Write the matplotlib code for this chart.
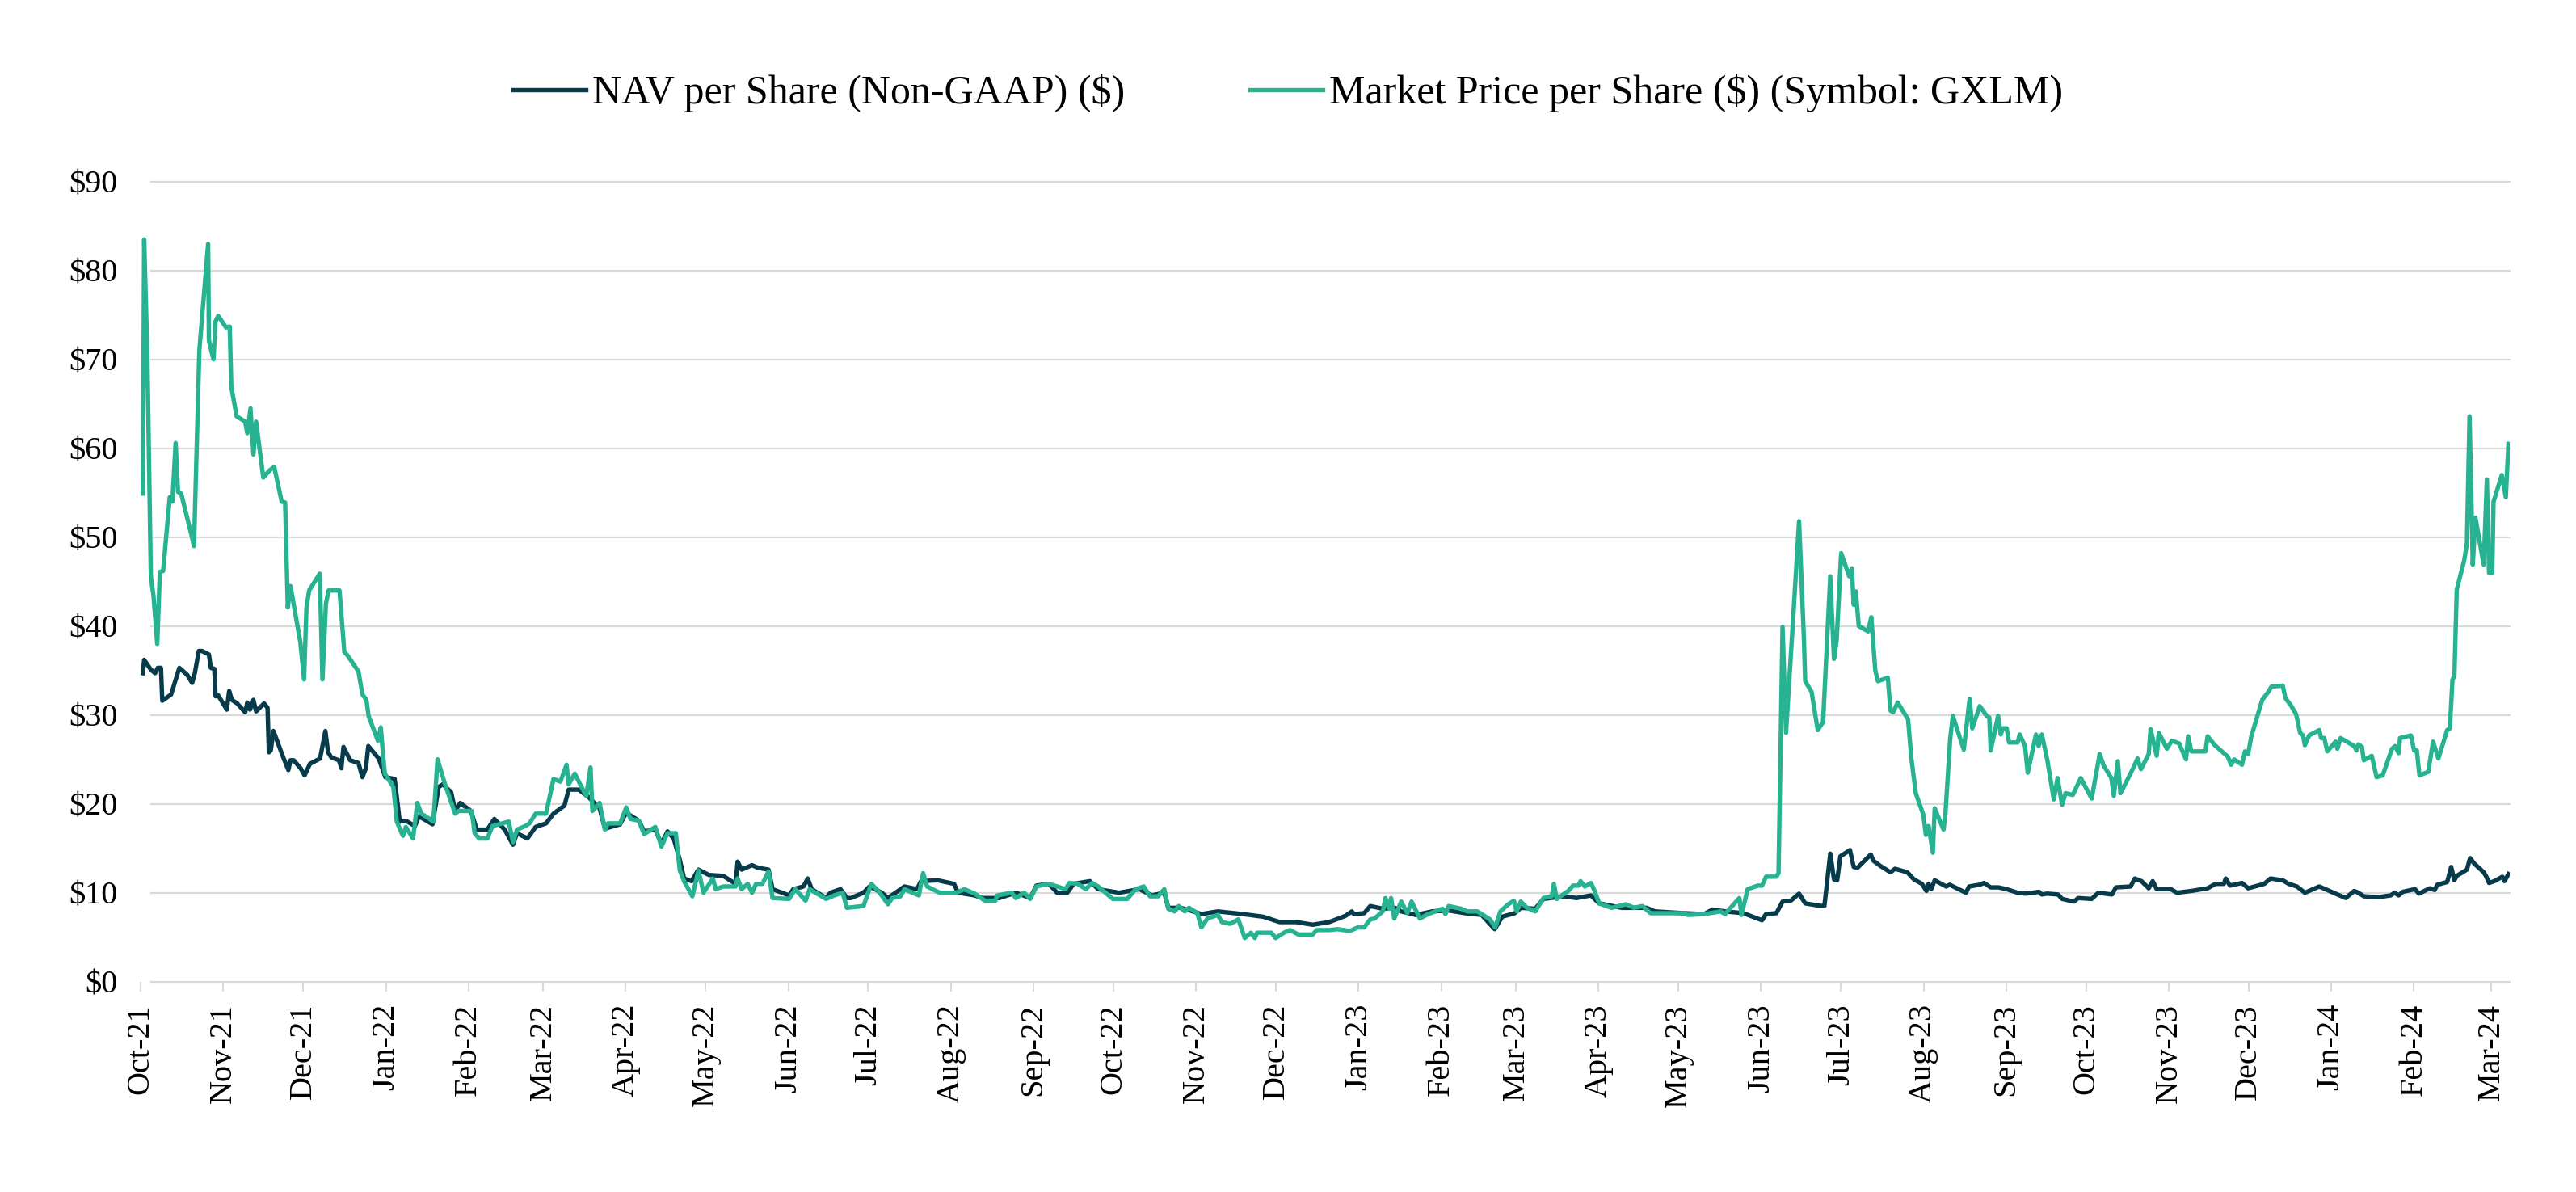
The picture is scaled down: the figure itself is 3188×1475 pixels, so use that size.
import numpy as np
import pandas as pd
import matplotlib
matplotlib.use('Agg')
import matplotlib.pyplot as plt
import matplotlib.dates as mdates

plt.rcParams['font.family'] = ['Liberation Serif', 'DejaVu Serif']

# dates are stored as days after 1 Oct 2021, values in $ per share
start = pd.Timestamp('2021-10-01')

nav_days = [0.8, 1.3, 3.8, 5.4, 6.4, 7.6, 8.1, 11.4, 14.5, 17.5, 19.3, 20.3, 21.8, 23.0, 25.6, 26.3,
            27.6, 28.1, 29.1, 32.3, 33.2, 34.2, 36.2, 39.2, 40.0, 41.0, 42.3, 43.3, 46.3, 47.6, 48.1,
            48.8, 49.8, 53.4, 55.4, 56.2, 57.4, 60.0, 61.5, 63.5, 67.3, 69.3, 70.3, 71.6, 74.4, 75.3,
            76.1, 78.6, 81.7, 83.2, 84.5, 85.4, 89.3, 91.8, 95.3, 97.2, 99.5, 102.9, 104.4, 107.2,
            109.5, 111.8, 113.4, 116.5, 118.0, 119.9, 123.9, 126.1, 130.1, 132.7, 136.6, 139.7, 141.2,
            145.1, 148.2, 152.1, 154.9, 159.0, 160.6, 164.4, 168.3, 172.2, 174.2, 179.9, 182.2, 186.9,
            188.9, 193.1, 195.4, 197.7, 200.0, 202.3, 203.9, 206.7, 209.3, 213.2, 218.6, 220.1, 223.2,
            224.0, 225.5, 229.4, 231.7, 235.6, 237.1, 243.3, 244.9, 248.7, 250.3, 251.8, 257.2, 258.8,
            262.6, 265.0, 266.5, 271.2, 273.5, 278.1, 280.4, 286.6, 291.3, 292.8, 299.0, 305.2, 306.7,
            312.9, 316.0, 322.2, 328.4, 333.8, 336.1, 340.8, 343.9, 347.7, 350.1, 356.2, 359.3, 367.1,
            374.8, 379.4, 384.1, 385.6, 390.3, 394.9, 398.0, 404.2, 413.5, 421.2, 427.4, 433.6, 439.8,
            446.0, 452.1, 454.5, 455.2, 459.1, 461.4, 466.1, 470.7, 473.0, 478.4, 484.6, 490.8, 497.0,
            503.2, 508.1, 510.9, 515.6, 517.9, 523.3, 526.4, 534.1, 538.8, 544.2, 547.3, 555.8, 565.1,
            568.2, 579.0, 586.7, 589.8, 594.5, 601.4, 608.4, 609.9, 613.8, 616.1, 619.2, 622.3, 624.6,
            630.8, 631.8, 634.0, 635.4, 636.6, 637.8, 641.4, 642.8, 644.2, 649.2, 650.2, 652.9, 656.6,
            658.3, 662.9, 665.4, 668.4, 670.1, 670.9, 671.9, 673.2, 677.5, 678.8, 684.9, 686.1, 690.1,
            691.7, 694.2, 697.2, 700.2, 704.3, 707.3, 712.4, 713.4, 715.4, 719.5, 721.0, 725.5, 727.0,
            732.1, 734.6, 739.7, 741.2, 746.7, 748.3, 750.8, 753.5, 755.0, 756.5, 761.8, 764.1, 769.5,
            775.6, 778.6, 781.7, 782.4, 784.0, 788.5, 790.8, 796.9, 799.2, 803.8, 806.0, 809.1, 812.1,
            817.5, 825.1, 827.4, 830.6, 832.2, 834.2, 839.7, 844.3, 845.8, 847.3, 848.8, 853.4, 854.9,
            859.0, 860.8, 861.8, 865.5, 867.0, 868.2, 869.1, 872.9, 874.1, 875.6, 879.2, 880.2, 881.2,
            883.2, 886.2, 887.0, 888.5]
nav_vals = [34.7, 36.2, 35.1, 34.7, 35.3, 35.3, 31.6, 32.3, 35.3, 34.5, 33.6, 34.7, 37.2, 37.2, 36.8, 35.3,
            35.2, 32.1, 32.2, 30.6, 32.7, 31.7, 31.3, 30.3, 31.4, 30.6, 31.7, 30.4, 31.3, 30.8, 25.8,
            26.0, 28.2, 25.3, 23.8, 24.9, 24.9, 24.0, 23.2, 24.5, 25.1, 28.2, 25.8, 25.2, 24.9, 24.0,
            26.4, 24.9, 24.6, 23.0, 24.0, 26.5, 25.1, 23.0, 22.8, 18.0, 18.1, 17.5, 18.6, 18.1,
            17.7, 21.9, 22.2, 21.3, 19.2, 20.1, 19.2, 17.1, 17.1, 18.3, 17.1, 15.4, 16.7,
            16.1, 17.4, 17.8, 18.9, 19.8, 21.6, 21.6, 20.7, 19.5, 17.2, 17.7, 19.0, 18.1,
            16.9, 17.1, 15.5, 16.9, 16.1, 13.7, 11.6, 11.3, 12.6, 12.0, 11.9, 11.6, 11.0,
            13.5, 12.6, 13.1, 12.8, 12.6, 10.4, 9.7, 10.4, 10.7, 11.6, 10.4, 9.4, 10.0,
            10.4, 9.4, 9.4, 10.0, 10.7, 10.0, 9.4, 10.7, 10.4, 11.3, 11.4, 11.0, 10.0,
            9.7, 9.4, 9.4, 10.0, 9.4, 10.8, 11.0, 10.0, 10.0, 11.0, 11.3, 10.4, 10.0,
            10.4, 9.7, 10.0, 8.3, 8.3, 7.9, 7.6, 7.9, 7.6, 7.3, 6.7, 6.7, 6.4,
            6.7, 7.4, 7.9, 7.6, 7.7, 8.5, 8.2, 8.3, 7.9, 7.5, 7.9, 8.0, 7.7,
            7.5, 5.9, 7.3, 7.7, 8.3, 8.2, 9.3, 9.6, 9.4, 9.7, 8.8, 8.3, 8.3,
            7.9, 7.7, 7.6, 8.1, 7.9, 7.7, 6.9, 7.6, 7.7, 9.0, 9.1, 9.9, 8.8,
            8.5, 8.5, 14.4, 11.5, 11.4, 14.1, 14.8, 12.9, 12.8, 14.3, 13.6, 13.0, 12.3,
            12.7, 12.3, 11.5, 11.0, 10.2, 11.0, 10.4, 11.4, 10.7, 10.9, 10.0, 10.7, 10.9,
            11.1, 10.6, 10.6, 10.4, 10.0, 9.9, 10.1, 9.8, 9.9, 9.8, 9.3, 9.0, 9.4,
            9.3, 10.0, 9.8, 10.6, 10.7, 11.6, 11.3, 10.5, 11.3, 10.4, 10.4, 10.0, 10.2,
            10.5, 11.0, 11.0, 11.6, 10.8, 11.1, 10.5, 11.0, 11.6, 11.4, 11.0, 10.7, 10.0,
            10.7, 9.7, 9.4, 10.2, 10.0, 9.6, 9.5, 9.7, 10.0, 9.7, 10.1, 10.4, 9.9,
            10.5, 10.3, 10.9, 11.2, 12.9, 11.4, 11.9, 12.6, 13.9, 13.3, 12.3, 11.8, 11.1,
            11.3, 11.8, 11.3, 12.1]

mkt_days = [0.8, 1.3, 2.5, 3.8, 4.8, 6.2, 7.2, 8.4, 10.9, 11.9, 13.1, 14.0, 15.2, 19.0, 20.0, 22.0,
            25.3, 25.6, 27.3, 28.1, 29.1, 32.0, 33.4, 34.0, 36.0, 39.2, 40.0, 41.2, 42.3, 43.3, 46.0,
            48.3, 50.1, 52.9, 54.2, 55.2, 56.2, 59.9, 61.3, 62.2, 63.2, 67.2, 68.2, 69.5, 70.5, 74.6,
            76.4, 77.6, 81.7, 83.2, 84.7, 85.5, 89.0, 90.1, 90.8, 91.6, 94.8, 96.1, 98.4, 99.5, 102.2,
            103.8, 105.3, 108.4, 109.8, 111.4, 114.2, 118.0, 119.3, 124.2, 125.3, 127.0, 130.1, 132.0,
            138.1, 139.7, 141.2, 144.3, 145.9, 148.2, 152.1, 154.9, 157.5, 159.8, 160.6, 162.9, 164.9,
            167.2, 168.8, 169.5, 172.2, 174.2, 175.3, 179.9, 182.2, 183.8, 186.9, 188.9, 193.1, 195.4,
            197.7, 200.8, 202.3, 203.9, 207.0, 209.3, 211.2, 214.7, 215.8, 218.6, 223.2, 224.0, 225.5,
            227.8, 229.4, 230.9, 233.3, 235.6, 237.1, 243.3, 245.6, 249.5, 251.0, 257.2, 260.3, 263.4,
            265.0, 271.2, 274.2, 277.3, 280.4, 282.0, 285.1, 286.6, 292.0, 293.6, 295.1, 299.8, 306.0,
            309.1, 312.9, 316.8, 320.7, 321.4, 326.9, 328.4, 331.5, 333.8, 336.1, 340.8, 347.0, 348.5,
            351.6, 354.7, 357.0, 359.3, 364.8, 370.2, 373.3, 376.4, 378.7, 381.8, 384.1, 385.6, 388.0,
            389.5, 391.8, 393.4, 396.5, 398.0, 400.3, 404.2, 405.7, 408.8, 411.9, 414.3, 416.6, 418.1,
            418.9, 424.3, 425.9, 429.0, 431.3, 434.4, 439.8, 441.3, 446.0, 449.1, 453.7, 456.8, 459.1,
            461.4, 463.0, 466.1, 467.1, 468.4, 469.2, 470.4, 473.0, 475.3, 476.9, 480.0, 483.1, 488.5,
            489.6, 490.8, 495.5, 497.8, 501.6, 506.3, 508.3, 510.2, 513.2, 515.3, 516.3, 517.9, 520.2,
            523.3, 526.4, 529.5, 530.3, 531.4, 535.7, 537.5, 539.5, 540.3, 541.9, 544.2, 545.3, 547.3,
            551.9, 557.3, 560.4, 563.5, 566.6, 571.3, 579.0, 580.5, 586.7, 592.9, 594.5, 599.9, 600.7,
            603.0, 606.8, 608.4, 609.9, 613.8, 614.6, 616.1, 617.4, 620.0, 622.3, 624.1, 624.6, 627.0,
            629.3, 631.3, 634.0, 635.4, 636.4, 638.1, 641.1, 642.1, 642.8, 643.6, 644.7, 648.2, 649.4,
            650.9, 651.9, 655.6, 656.6, 657.6, 659.3, 663.2, 664.4, 666.1, 668.9, 669.9, 670.9, 672.5,
            673.2, 676.5, 677.2, 679.0, 680.0, 684.1, 686.3, 687.3, 690.1, 692.7, 693.7, 694.2, 697.0,
            698.0, 698.7, 700.2, 701.1, 704.3, 705.1, 707.1, 708.1, 711.2, 712.2, 713.4, 715.4, 717.9,
            719.3, 721.0, 722.3, 725.0, 728.0, 732.1, 735.1, 736.6, 739.5, 740.4, 741.9, 742.9, 746.5,
            747.8, 749.3, 750.6, 753.5, 754.2, 756.5, 757.3, 760.3, 762.2, 764.9, 767.5, 768.3, 769.5,
            774.8, 775.6, 778.3, 783.2, 784.4, 785.5, 788.5, 789.6, 790.8, 792.0, 796.1, 798.4, 799.6,
            803.8, 804.8, 806.8, 808.8, 810.3, 811.4, 812.1, 813.7, 817.5, 818.2, 819.4, 820.5, 823.6,
            824.3, 825.5, 830.6, 831.5, 832.2, 833.5, 834.2, 837.2, 839.0, 841.3, 844.8, 846.0, 847.3,
            847.8, 851.9, 853.1, 854.1, 855.1, 858.4, 860.2, 862.2, 865.5, 866.5, 867.5, 868.2, 869.1,
            871.9, 872.9, 873.9, 875.1, 876.1, 879.2, 880.4, 881.2, 882.4, 882.9, 886.0, 887.5, 888.5]
mkt_vals = [54.9, 83.5, 70.3, 45.6, 43.4, 38.0, 46.1, 46.2, 54.5, 54.0, 60.6, 55.1, 54.9, 50.3, 49.0, 71.0,
            83.0, 72.1, 70.0, 74.3, 74.9, 73.6, 73.7, 66.9, 63.6, 63.0, 61.7, 64.5, 59.3, 63.0, 56.7,
            57.5, 57.9, 54.0, 53.9, 42.1, 44.5, 38.2, 34.0, 42.1, 44.0, 45.9, 34.0, 42.5, 44.0, 44.0,
            37.1, 36.7, 34.9, 32.3, 31.7, 29.9, 27.1, 28.6, 26.0, 23.4, 21.9, 18.0, 16.4, 17.4, 16.1,
            20.1, 18.9, 18.3, 18.0, 25.0, 22.2, 18.9, 19.2, 19.2, 16.7, 16.1, 16.1, 17.5,
            18.0, 15.7, 17.1, 17.5, 17.8, 18.9, 18.9, 22.8, 22.5, 24.4, 22.2, 23.4, 22.2,
            20.9, 24.1, 19.2, 20.1, 17.1, 17.8, 17.8, 19.6, 18.3, 18.1, 16.6, 17.4, 15.2,
            16.7, 16.7, 12.5, 11.3, 9.6, 12.5, 10.0, 11.6, 10.4, 10.7, 10.7, 11.6, 10.4,
            11.0, 10.0, 11.0, 11.0, 12.4, 9.4, 9.3, 10.4, 9.1, 10.4, 9.3, 9.7, 10.0,
            8.3, 8.5, 11.0, 10.0, 8.7, 9.4, 9.6, 10.4, 9.7, 12.2, 10.7, 10.0, 10.0,
            10.4, 9.9, 9.1, 9.1, 9.7, 10.0, 9.4, 10.0, 9.3, 10.7, 11.0, 10.4, 11.1,
            11.0, 10.4, 11.1, 10.7, 9.3, 9.3, 10.4, 10.7, 9.6, 9.6, 10.4, 8.2, 7.9,
            8.5, 7.9, 8.3, 7.7, 6.1, 7.1, 7.5, 6.7, 6.5, 7.0, 4.9, 5.5, 4.9,
            5.5, 5.5, 4.9, 5.5, 5.8, 5.3, 5.3, 5.8, 5.8, 5.9, 5.7, 6.1, 6.1,
            7.0, 7.1, 7.9, 9.4, 8.2, 9.4, 7.1, 9.0, 7.7, 9.0, 7.1, 7.6, 8.2,
            7.6, 8.5, 8.2, 7.9, 7.9, 7.0, 6.1, 7.9, 8.7, 9.1, 7.9, 9.0, 8.3,
            7.9, 9.4, 9.6, 11.0, 9.3, 10.2, 10.8, 10.8, 11.3, 10.7, 11.1, 10.4, 8.8,
            8.3, 8.7, 8.3, 8.5, 7.7, 7.7, 7.7, 7.5, 7.6, 7.9, 7.6, 9.4, 7.5,
            10.4, 10.8, 10.8, 11.8, 11.8, 12.2, 39.9, 28.0, 40.5, 51.8, 38.7, 33.8, 32.6,
            28.3, 29.2, 45.6, 36.3, 38.4, 48.2, 45.6, 46.5, 42.4, 43.9, 40.0, 39.4, 41.0,
            35.0, 33.8, 34.2, 30.5, 30.3, 31.4, 29.5, 25.2, 21.2, 18.8, 16.5, 17.5, 14.5,
            19.5, 17.1, 18.8, 27.3, 29.9, 26.1, 31.8, 28.5, 31.0, 29.9, 29.7, 26.0, 29.9,
            27.8, 28.5, 28.5, 26.9, 26.9, 27.8, 26.5, 23.5, 27.8, 26.5, 27.8, 25.0, 20.5,
            22.9, 19.9, 21.2, 21.0, 22.9, 20.6, 25.6, 24.3, 22.9, 20.9, 24.8, 21.2, 23.3,
            24.1, 25.1, 23.9, 25.6, 28.4, 25.4, 28.0, 26.2, 27.1, 26.8, 25.0, 27.6, 25.9,
            25.9, 27.6, 26.6, 25.3, 24.4, 25.0, 24.4, 25.9, 25.6, 27.6, 31.7, 32.6, 33.2,
            33.3, 31.9, 31.1, 30.1, 28.0, 27.7, 26.6, 27.7, 28.3, 27.4, 27.4, 25.9, 27.0,
            26.2, 27.4, 26.5, 26.0, 26.7, 26.4, 24.9, 25.4, 23.0, 23.2, 26.2, 26.5, 25.7,
            27.4, 27.7, 26.0, 26.0, 23.2, 23.6, 27.0, 25.1, 28.3, 28.5, 34.0, 34.3, 44.1,
            47.4, 49.3, 63.6, 46.9, 52.2, 46.9, 56.5, 46.0, 46.0, 54.0, 57.0, 54.5, 60.5]

nav_dates = start + pd.to_timedelta(nav_days, unit='D')
mkt_dates = start + pd.to_timedelta(mkt_days, unit='D')

nav_color = '#073B4C'
mkt_color = '#27B391'
grid_color = '#D9D9D9'

fig = plt.figure(figsize=(31.88, 14.75), dpi=100)
ax = fig.add_axes([0.054, 0.1765, 0.9203, 0.6711])

# horizontal gridlines (they start a little right of the first data point)
for v in range(0, 100, 10):
    ax.axhline(v, xmin=0.005, xmax=1, color=grid_color, lw=1.6, zorder=0, clip_on=False)

ax.plot(nav_dates, nav_vals, color=nav_color, lw=3.9, label='NAV per Share (Non-GAAP) ($)', zorder=3)
ax.plot(mkt_dates, mkt_vals, color=mkt_color, lw=3.9,
        label='Market Price per Share ($) (Symbol: GXLM)', zorder=4)

ax.set_xlim(start - pd.Timedelta(days=0.6), start + pd.Timedelta(days=889))
ax.set_ylim(0, 90)

ax.set_yticks(range(0, 100, 10))
ax.set_yticklabels(['$%d' % v for v in range(0, 100, 10)])
ax.tick_params(axis='y', length=0, pad=19, labelsize=29)

ax.xaxis.set_major_locator(mdates.MonthLocator())
ax.xaxis.set_major_formatter(mdates.DateFormatter('%b-%y'))
ax.tick_params(axis='x', length=8.6, width=1.5, color=grid_color, pad=11, labelsize=29, rotation=90)

for s in ax.spines.values():
    s.set_visible(False)

fig.legend(loc='center', bbox_to_anchor=(0.5, 0.922), ncol=2, frameon=False, fontsize=36,
           handlelength=1.8, handletextpad=0.15, columnspacing=3.1)

fig.savefig('out.png', dpi=100)
